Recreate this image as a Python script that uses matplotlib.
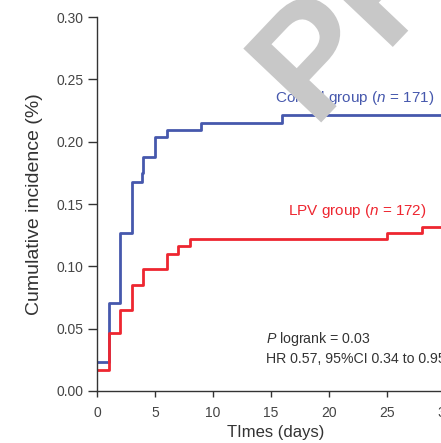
import matplotlib
matplotlib.use('Agg')
import matplotlib.pyplot as plt
from matplotlib import font_manager as fm
from matplotlib.textpath import TextPath
from matplotlib.patches import PathPatch
from matplotlib.transforms import Affine2D, IdentityTransform

# pick a narrow face for tick labels if it is there
try:
    fm.findfont('Liberation Sans Narrow', fallback_to_default=False)
    narrow = 'Liberation Sans Narrow'
except Exception:
    narrow = 'Liberation Sans'

plt.rcParams['font.family'] = ['Liberation Sans', 'DejaVu Sans']
plt.rcParams['mathtext.fontset'] = 'custom'
plt.rcParams['mathtext.rm'] = 'Liberation Sans'
plt.rcParams['mathtext.it'] = 'Liberation Sans:italic'

# cumulative incidence (step after each time)
control_t = [0, 1, 2, 3, 3.9, 4, 5, 6, 9, 16, 32]
control_y = [0.023, 0.0707, 0.127, 0.168, 0.175, 0.188, 0.204, 0.209, 0.215, 0.221, 0.221]
lpv_t = [0, 1, 2, 3, 4, 6, 7, 8, 25, 28, 32]
lpv_y = [0.0166, 0.0467, 0.0646, 0.0854, 0.098, 0.110, 0.116, 0.122, 0.1267, 0.1315, 0.1315]

x_ticks = [0, 5, 10, 15, 20, 25, 30]
y_ticks = [0.00, 0.05, 0.10, 0.15, 0.20, 0.25, 0.30]

blue = '#4658ad'
red = '#ee2630'
dark = '#333333'

W, H = 441, 443
fig = plt.figure(figsize=(W / 100, H / 100), dpi=100)
ax = fig.add_axes([0.22, 0.1174, 0.841, 0.8442])

ax.step(control_t, control_y, where='post', color=blue, lw=2.0)
ax.step(lpv_t, lpv_y, where='post', color=red, lw=2.0)

ax.set_xlim(0, 32)
ax.set_ylim(0, 0.30)
ax.set_xticks(x_ticks)
ax.set_yticks(y_ticks)
ax.set_yticklabels([f'{v:.2f}' for v in y_ticks])

for s in ['top', 'right']:
    ax.spines[s].set_visible(False)
for s in ['left', 'bottom']:
    ax.spines[s].set_color(dark)
    ax.spines[s].set_linewidth(1.0)

ax.tick_params(axis='y', direction='out', length=6.5, width=1.0, color=dark,
               labelcolor='#444444', labelsize=10, pad=3.5)
ax.tick_params(axis='x', direction='out', length=4.5, width=1.0, color=dark,
               labelcolor='#444444', labelsize=10, pad=6)
for lab in ax.get_xticklabels() + ax.get_yticklabels():
    lab.set_fontfamily(narrow)

fig.text(35 / W, 1 - 204 / H, 'Cumulative incidence (%)', rotation=90,
         ha='center', va='center', fontsize=14, color=dark)
fig.text(276 / W, 1 - 432 / H, 'TImes (days)', ha='center', va='center',
         fontsize=12, color=dark)

fig.text(434 / W, 1 - 102 / H, 'Control group ($n$ = 171)', ha='right',
         va='baseline', fontsize=11, color=blue)
fig.text(427 / W, 1 - 215 / H, 'LPV group ($n$ = 172)', ha='right',
         va='baseline', fontsize=11, color=red)
fig.text(266 / W, 1 - 343 / H, '$P$ logrank = 0.03', ha='left',
         va='baseline', fontsize=10.2, color=dark)
fig.text(266 / W, 1 - 363 / H, 'HR 0.57, 95%CI 0.34 to 0.95', ha='left',
         va='baseline', fontsize=10.2, color=dark)

# grey watermark across the top right, placed in pixel space
wm = TextPath((0, 0), 'PREVIEW', size=156,
              prop=fm.FontProperties(family='Liberation Sans', weight='semibold'))
wm_tr = Affine2D().rotate_deg(46.5).translate(314, H - 130) + IdentityTransform()
fig.add_artist(PathPatch(wm, transform=wm_tr, facecolor='#c8c8c8',
                         edgecolor='none', zorder=10))

fig.savefig('out.png', dpi=100)
